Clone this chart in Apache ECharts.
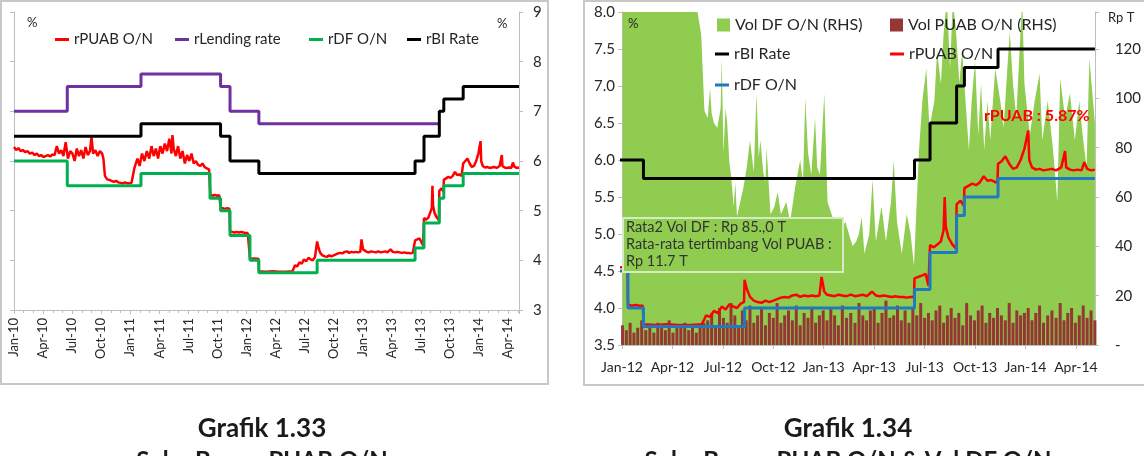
<!DOCTYPE html>
<html>
<head>
<meta charset="utf-8">
<script src="https://cdn.jsdelivr.net/npm/echarts@6/dist/echarts.min.js"></script>
<style>
  html, body { margin: 0; padding: 0; background: #fff; }
  #chart { width: 1144px; height: 456px; }
</style>
</head>
<body>
<div id="chart"></div>
<script>
// tick labels
const leftTicks = ['Jan-10', 'Apr-10', 'Jul-10', 'Oct-10', 'Jan-11', 'Apr-11', 'Jul-11', 'Oct-11', 'Jan-12',
  'Apr-12', 'Jul-12', 'Oct-12', 'Jan-13', 'Apr-13', 'Jul-13', 'Oct-13', 'Jan-14', 'Apr-14'];
const rightTicks = ['Jan-12', 'Apr-12', 'Jul-12', 'Oct-12', 'Jan-13', 'Apr-13', 'Jul-13', 'Oct-13', 'Jan-14', 'Apr-14'];

// policy rates (value holds until the next date)
const biRate = [['2010-01-01', 6.5], ['2011-02-04', 6.75], ['2011-10-11', 6.5], ['2011-11-10', 6.0],
  ['2012-02-09', 5.75], ['2013-06-13', 6.0], ['2013-07-11', 6.5], ['2013-08-29', 7.0], ['2013-09-12', 7.25],
  ['2013-11-12', 7.5], ['2014-05-05', 7.5]];
const lendingRate = [['2010-01-01', 7.0], ['2010-06-16', 7.5], ['2011-02-04', 7.75], ['2011-10-11', 7.5],
  ['2011-11-10', 7.0], ['2012-02-09', 6.75], ['2013-08-29', 6.75]];
const dfRate = [['2010-01-01', 6.0], ['2010-06-16', 5.5], ['2011-02-04', 5.75], ['2011-09-08', 5.25],
  ['2011-10-11', 5.0], ['2011-11-10', 4.5], ['2012-01-12', 4.0], ['2012-02-09', 3.75], ['2012-08-10', 4.0],
  ['2013-06-13', 4.25], ['2013-07-11', 4.75], ['2013-08-29', 5.25], ['2013-09-12', 5.5], ['2013-11-12', 5.75],
  ['2014-05-05', 5.75]];

// overnight interbank rate
const rPuab = [
  ['2010-01-01', 6.28], ['2010-01-08', 6.22], ['2010-01-15', 6.26], ['2010-01-22', 6.2], ['2010-01-29', 6.22],
  ['2010-02-05', 6.18], ['2010-02-12', 6.2], ['2010-02-19', 6.15], ['2010-02-26', 6.17],
  ['2010-03-05', 6.12], ['2010-03-12', 6.15], ['2010-03-19', 6.1], ['2010-03-26', 6.12],
  ['2010-04-02', 6.08], ['2010-04-09', 6.1], ['2010-04-16', 6.12], ['2010-04-23', 6.09], ['2010-04-30', 6.13],
  ['2010-05-07', 6.12], ['2010-05-14', 6.3], ['2010-05-21', 6.15], ['2010-05-28', 6.22],
  ['2010-06-04', 6.1], ['2010-06-11', 6.38], ['2010-06-18', 6.05], ['2010-06-25', 6.2],
  ['2010-07-02', 6.15], ['2010-07-09', 6.0], ['2010-07-16', 6.25], ['2010-07-23', 6.1], ['2010-07-30', 6.22],
  ['2010-08-06', 6.05], ['2010-08-13', 6.28], ['2010-08-20', 6.12], ['2010-08-27', 6.2],
  ['2010-09-01', 6.48], ['2010-09-06', 6.15], ['2010-09-13', 6.22], ['2010-09-20', 6.1], ['2010-09-27', 6.2],
  ['2010-10-04', 6.15], ['2010-10-08', 6.05], ['2010-10-13', 5.7], ['2010-10-20', 5.63], ['2010-10-27', 5.62],
  ['2010-11-03', 5.6], ['2010-11-10', 5.58], ['2010-11-17', 5.6], ['2010-11-24', 5.57],
  ['2010-12-01', 5.56], ['2010-12-08', 5.55], ['2010-12-15', 5.57], ['2010-12-22', 5.55], ['2010-12-29', 5.55],
  ['2011-01-05', 5.56], ['2011-01-10', 5.6], ['2011-01-14', 5.85], ['2011-01-19', 5.95], ['2011-01-24', 6.05], ['2011-01-31', 5.9],
  ['2011-02-07', 6.15], ['2011-02-14', 6.0], ['2011-02-21', 6.2], ['2011-02-28', 6.05],
  ['2011-03-07', 6.3], ['2011-03-14', 6.1], ['2011-03-21', 6.25], ['2011-03-28', 6.05],
  ['2011-04-04', 6.3], ['2011-04-11', 6.15], ['2011-04-18', 6.35], ['2011-04-25', 6.2],
  ['2011-05-02', 6.45], ['2011-05-09', 6.15], ['2011-05-12', 6.52], ['2011-05-16', 6.25], ['2011-05-23', 6.1], ['2011-05-30', 6.3],
  ['2011-06-06', 6.05], ['2011-06-13', 6.2], ['2011-06-20', 5.95], ['2011-06-27', 6.12],
  ['2011-07-04', 6.0], ['2011-07-11', 6.15], ['2011-07-18', 5.95], ['2011-07-25', 6.0],
  ['2011-08-01', 5.92], ['2011-08-08', 5.9], ['2011-08-15', 5.95], ['2011-08-22', 5.88], ['2011-08-29', 5.85],
  ['2011-09-05', 5.83], ['2011-09-07', 5.8], ['2011-09-09', 5.33], ['2011-09-16', 5.3], ['2011-09-23', 5.32],
  ['2011-09-30', 5.3], ['2011-10-07', 5.31], ['2011-10-11', 5.06], ['2011-10-18', 5.05], ['2011-10-25', 5.03],
  ['2011-11-01', 5.05], ['2011-11-08', 5.04], ['2011-11-10', 4.58], ['2011-11-17', 4.57], ['2011-11-24', 4.56],
  ['2011-12-01', 4.57], ['2011-12-08', 4.56], ['2011-12-15', 4.57], ['2011-12-22', 4.56], ['2011-12-29', 4.55],
  ['2012-01-05', 4.55], ['2012-01-11', 4.54], ['2012-01-12', 4.05], ['2012-01-19', 4.03], ['2012-01-26', 4.04],
  ['2012-02-02', 4.03], ['2012-02-08', 4.03], ['2012-02-09', 3.78], ['2012-03-01', 3.77], ['2012-03-22', 3.78],
  ['2012-04-12', 3.77], ['2012-05-03', 3.77], ['2012-05-24', 3.78], ['2012-05-29', 3.85], ['2012-06-01', 3.9],
  ['2012-06-08', 3.88], ['2012-06-15', 3.96], ['2012-06-22', 3.93], ['2012-06-29', 4.02],
  ['2012-07-06', 3.98], ['2012-07-13', 4.05], ['2012-07-20', 4.02], ['2012-07-27', 4.0], ['2012-08-03', 4.06],
  ['2012-08-09', 4.08], ['2012-08-10', 4.38], ['2012-08-14', 4.26], ['2012-08-20', 4.15], ['2012-08-27', 4.1],
  ['2012-09-03', 4.08], ['2012-09-10', 4.07], ['2012-09-17', 4.1], ['2012-09-24', 4.08],
  ['2012-10-01', 4.1], ['2012-10-08', 4.12], ['2012-10-15', 4.14], ['2012-10-22', 4.15], ['2012-10-29', 4.14],
  ['2012-11-05', 4.17], ['2012-11-12', 4.18], ['2012-11-19', 4.15], ['2012-11-26', 4.17],
  ['2012-12-03', 4.16], ['2012-12-10', 4.17], ['2012-12-17', 4.16], ['2012-12-24', 4.17], ['2012-12-28', 4.42],
  ['2013-01-02', 4.22], ['2013-01-07', 4.18], ['2013-01-14', 4.17], ['2013-01-21', 4.16], ['2013-01-28', 4.18],
  ['2013-02-04', 4.17], ['2013-02-11', 4.16], ['2013-02-18', 4.18], ['2013-02-25', 4.16],
  ['2013-03-04', 4.17], ['2013-03-11', 4.18], ['2013-03-18', 4.16], ['2013-03-28', 4.22],
  ['2013-04-04', 4.17], ['2013-04-11', 4.16], ['2013-04-18', 4.17], ['2013-04-25', 4.16],
  ['2013-05-02', 4.15], ['2013-05-09', 4.16], ['2013-05-16', 4.15], ['2013-05-23', 4.15], ['2013-05-30', 4.14],
  ['2013-06-06', 4.15], ['2013-06-12', 4.15], ['2013-06-13', 4.4], ['2013-06-20', 4.42], ['2013-06-27', 4.44],
  ['2013-07-03', 4.46], ['2013-07-08', 4.3], ['2013-07-11', 4.85], ['2013-07-18', 4.82], ['2013-07-25', 4.86],
  ['2013-07-31', 4.9], ['2013-08-05', 5.05], ['2013-08-07', 5.5], ['2013-08-09', 5.1], ['2013-08-14', 4.95],
  ['2013-08-21', 4.86], ['2013-08-28', 4.8], ['2013-08-29', 5.4], ['2013-09-05', 5.45], ['2013-09-11', 5.38],
  ['2013-09-12', 5.62], ['2013-09-19', 5.65], ['2013-09-26', 5.68], ['2013-10-03', 5.66], ['2013-10-10', 5.7],
  ['2013-10-17', 5.78], ['2013-10-24', 5.72], ['2013-10-31', 5.73], ['2013-11-07', 5.7], ['2013-11-11', 5.7],
  ['2013-11-12', 5.95], ['2013-11-18', 5.98], ['2013-11-25', 6.05], ['2013-12-02', 5.95], ['2013-12-09', 5.88],
  ['2013-12-16', 5.9], ['2013-12-23', 6.0], ['2013-12-30', 6.15],
  ['2014-01-06', 6.4], ['2014-01-08', 6.0], ['2014-01-13', 5.9], ['2014-01-20', 5.87], ['2014-01-27', 5.88],
  ['2014-02-03', 5.86], ['2014-02-10', 5.87], ['2014-02-17', 5.88], ['2014-02-24', 5.86],
  ['2014-03-05', 5.9], ['2014-03-12', 6.12], ['2014-03-14', 5.9], ['2014-03-21', 5.87], ['2014-03-28', 5.86],
  ['2014-04-04', 5.87], ['2014-04-11', 5.86], ['2014-04-16', 5.97], ['2014-04-21', 5.88], ['2014-04-28', 5.86],
  ['2014-05-05', 5.87]
];

// deposit facility volume, Rp T
const volDf = [
  ['2012-01-02', 150], ['2012-02-01', 150], ['2012-03-01', 150], ['2012-04-01', 150], ['2012-05-10', 150],
  ['2012-05-14', 138], ['2012-05-23', 126], ['2012-05-29', 95], ['2012-06-04', 92], ['2012-06-08', 104],
  ['2012-06-11', 94], ['2012-06-15', 90], ['2012-06-21', 88], ['2012-06-27', 96], ['2012-06-29', 116],
  ['2012-07-02', 78], ['2012-07-06', 96], ['2012-07-09', 90], ['2012-07-13', 74], ['2012-07-16', 69],
  ['2012-07-21', 56], ['2012-07-24', 66], ['2012-07-27', 52], ['2012-08-02', 58], ['2012-08-08', 64],
  ['2012-08-14', 72], ['2012-08-20', 83], ['2012-08-27', 70], ['2012-09-01', 102], ['2012-09-05', 76],
  ['2012-09-08', 83], ['2012-09-13', 70], ['2012-09-17', 66], ['2012-09-19', 80], ['2012-09-26', 53],
  ['2012-10-03', 56], ['2012-10-09', 62], ['2012-10-15', 53], ['2012-10-25', 58], ['2012-11-01', 50],
  ['2012-11-10', 64], ['2012-11-19', 75], ['2012-11-24', 66], ['2012-11-28', 100], ['2012-12-03', 78],
  ['2012-12-09', 69], ['2012-12-16', 92], ['2012-12-20', 72], ['2012-12-25', 69], ['2013-01-02', 102],
  ['2013-01-08', 58], ['2013-01-17', 52], ['2013-01-29', 45], ['2013-02-09', 50], ['2013-02-21', 40],
  ['2013-02-27', 42], ['2013-03-04', 45], ['2013-03-09', 52], ['2013-03-14', 37], ['2013-03-23', 45],
  ['2013-03-29', 67], ['2013-04-04', 42], ['2013-04-14', 56], ['2013-04-22', 42], ['2013-05-01', 58],
  ['2013-05-06', 75], ['2013-05-12', 50], ['2013-05-21', 37], ['2013-05-30', 53], ['2013-06-06', 45],
  ['2013-06-12', 32], ['2013-06-21', 79], ['2013-06-27', 99], ['2013-07-04', 112], ['2013-07-10', 88],
  ['2013-07-19', 99], ['2013-07-24', 119], ['2013-07-31', 106], ['2013-08-05', 126], ['2013-08-11', 140],
  ['2013-08-17', 112], ['2013-08-22', 140], ['2013-08-28', 127], ['2013-09-03', 106], ['2013-09-08', 119],
  ['2013-09-14', 99], ['2013-09-20', 79], ['2013-09-25', 99], ['2013-10-01', 115], ['2013-10-07', 85],
  ['2013-10-12', 106], ['2013-10-18', 79], ['2013-10-24', 99], ['2013-10-29', 83], ['2013-11-07', 112],
  ['2013-11-16', 99], ['2013-11-22', 88], ['2013-11-28', 110], ['2013-12-03', 127], ['2013-12-09', 106],
  ['2013-12-15', 92], ['2013-12-21', 119], ['2013-12-26', 140], ['2013-12-30', 106], ['2014-01-09', 85],
  ['2014-01-18', 99], ['2014-01-27', 110], ['2014-02-01', 83], ['2014-02-10', 99], ['2014-02-19', 79],
  ['2014-02-26', 58], ['2014-03-03', 108], ['2014-03-12', 92], ['2014-03-21', 102], ['2014-03-30', 83],
  ['2014-04-07', 99], ['2014-04-13', 85], ['2014-04-20', 72], ['2014-04-25', 116], ['2014-05-05', 90]
];

// interbank volume, Rp T, one value per week from volPuabStart
const volPuabStart = '2012-01-02';
const volPuab = [
  8, 6, 9, 5, 7, 10, 6, 8, 5, 9, 7, 6, 10, 5, 8, 7, 9, 6, 8, 5, 7, 9,
  10, 13, 8, 15, 11, 9, 17, 12, 8, 14, 10, 16, 9, 12, 15, 8, 13, 11, 17, 9, 12, 14, 10, 16, 8, 13, 11, 15, 9, 12, 14,
  10, 15, 12, 8, 16, 11, 13, 9, 17, 12, 10, 14, 15, 9, 13, 18, 11, 12, 16, 10, 14, 9, 15, 12, 17, 11, 13, 10, 14, 16,
  9, 12, 15, 11, 13, 8, 17, 12, 10, 14, 16, 9, 13, 11, 15, 12, 10, 17, 9, 14, 12, 13,
  15, 10, 13, 16, 9, 12, 14, 11, 17, 10, 13, 15, 9, 12, 16, 11, 14, 10
];

const endDate = '2014-05-05';

// dates -> months since January of baseYear
function monthPos(d, baseYear) {
  const p = d.split('-').map(Number);
  const dim = new Date(p[0], p[1], 0).getDate();
  return (p[0] - baseYear) * 12 + (p[1] - 1) + (p[2] - 1) / dim;
}
function toXY(list, baseYear) {
  return list.map(function (r) { return [monthPos(r[0], baseYear), r[1]]; });
}
function addDays(s, n) {
  const t = new Date(s + 'T00:00:00Z');
  t.setUTCDate(t.getUTCDate() + n);
  return t.toISOString().slice(0, 10);
}
const volPuabXY = volPuab.map(function (v, i) { return [monthPos(addDays(volPuabStart, 7 * i), 2012), v]; });

const FONT = 'Lato, "Open Sans", sans-serif';
const TXT = '#262626';
const AX = '#bfbfbf';

function tickFmt(labels) {
  return function (v) {
    const i = v / 3;
    if (Math.abs(i - Math.round(i)) > 1e-6) return '';
    return labels[Math.round(i)] || '';
  };
}

function lineLegend(name, left, top, size) {
  return {
    data: [name], left: left, top: top, padding: 0, icon: 'rect', itemWidth: 14, itemHeight: 3,
    selectedMode: false, textStyle: { fontSize: size, color: TXT, fontFamily: FONT }
  };
}
function boxLegend(name, left, top) {
  return {
    data: [name], left: left, top: top, padding: 0, icon: 'rect', itemWidth: 13, itemHeight: 13,
    selectedMode: false, textStyle: { fontSize: 16, color: TXT, fontFamily: FONT }
  };
}

const chart = echarts.init(document.getElementById('chart'));

chart.setOption({
  animation: false,
  textStyle: { fontFamily: FONT },
  grid: [
    { left: 14, top: 12, width: 505, height: 298 },
    { left: 622, top: 12, width: 474, height: 333 }
  ],
  xAxis: [
    {
      type: 'value', gridIndex: 0, min: 0, max: monthPos(endDate, 2010), interval: 3,
      axisLine: { lineStyle: { color: AX } },
      axisTick: { length: 4, lineStyle: { color: AX } },
      minorTick: { show: true, splitNumber: 3, length: 3, lineStyle: { color: AX } },
      splitLine: { show: false },
      axisLabel: { rotate: 90, fontSize: 13, color: TXT, margin: 8, formatter: tickFmt(leftTicks), showMaxLabel: false }
    },
    {
      type: 'value', gridIndex: 1, min: 0, max: monthPos(endDate, 2012), interval: 3,
      axisLine: { lineStyle: { color: AX } },
      axisTick: { length: 4, lineStyle: { color: AX } },
      splitLine: { show: false },
      axisLabel: { fontSize: 14, color: TXT, margin: 15, formatter: tickFmt(rightTicks), showMaxLabel: false }
    }
  ],
  yAxis: [
    {
      type: 'value', gridIndex: 0, position: 'left', min: 3, max: 9, interval: 1,
      axisLine: { show: true, lineStyle: { color: AX } },
      axisTick: { show: true, length: 4, lineStyle: { color: AX } },
      axisLabel: { show: false }, splitLine: { show: false }
    },
    {
      type: 'value', gridIndex: 0, position: 'right', min: 3, max: 9, interval: 1,
      axisLine: { show: true, lineStyle: { color: AX } },
      axisTick: { show: true, length: 4, lineStyle: { color: AX } },
      axisLabel: { fontSize: 15, color: TXT, margin: 14 }, splitLine: { show: false }
    },
    {
      type: 'value', gridIndex: 1, position: 'left', min: 3.5, max: 8, interval: 0.5,
      axisLine: { show: true, lineStyle: { color: AX } },
      axisTick: { show: true, length: 4, lineStyle: { color: AX } },
      axisLabel: { fontSize: 15, color: TXT, margin: 7, formatter: function (v) { return v.toFixed(1); } },
      splitLine: { show: false }
    },
    {
      type: 'value', gridIndex: 1, position: 'right', min: 0, max: 135, interval: 20,
      axisLine: { show: true, lineStyle: { color: AX } },
      axisTick: { show: true, length: 4, lineStyle: { color: AX } },
      axisLabel: {
        fontSize: 15, color: TXT, margin: 20,
        formatter: function (v) { return v === 0 ? '-' : (v > 125 ? '' : v); }
      },
      splitLine: { show: false }
    }
  ],
  legend: [
    lineLegend('rPUAB O/N', 55, 32, 15),
    lineLegend('rLending rate', 175, 32, 15),
    lineLegend('rDF O/N', 309, 32, 15),
    lineLegend('rBI Rate', 407, 32, 15),
    boxLegend('Vol DF O/N (RHS)', 717, 17),
    boxLegend('Vol PUAB O/N (RHS)', 890, 17),
    lineLegend('rBI Rate ', 715, 46, 16),
    lineLegend('rPUAB O/N ', 890, 46, 16),
    lineLegend('rDF O/N ', 715, 77, 16)
  ],
  series: [
    // left chart
    {
      name: 'rPUAB O/N', type: 'line', xAxisIndex: 0, yAxisIndex: 1, data: toXY(rPuab, 2010),
      color: '#ff0000', showSymbol: false, lineStyle: { width: 2.5 }, z: 3
    },
    {
      name: 'rLending rate', type: 'line', xAxisIndex: 0, yAxisIndex: 1, data: toXY(lendingRate, 2010),
      step: 'end', color: '#7030a0', showSymbol: false, lineStyle: { width: 3 }, z: 3
    },
    {
      name: 'rDF O/N', type: 'line', xAxisIndex: 0, yAxisIndex: 1, data: toXY(dfRate, 2010),
      step: 'end', color: '#00b050', showSymbol: false, lineStyle: { width: 3 }, z: 3
    },
    {
      name: 'rBI Rate', type: 'line', xAxisIndex: 0, yAxisIndex: 1, data: toXY(biRate, 2010),
      step: 'end', color: '#000000', showSymbol: false, lineStyle: { width: 3 }, z: 3
    },
    // right chart
    {
      name: 'Vol DF O/N (RHS)', type: 'line', xAxisIndex: 1, yAxisIndex: 3, data: toXY(volDf, 2012),
      color: '#8fcc4f', showSymbol: false, lineStyle: { width: 0 },
      areaStyle: { color: '#8fcc4f', opacity: 1 }, z: 1
    },
    {
      name: 'Vol PUAB O/N (RHS)', type: 'bar', xAxisIndex: 1, yAxisIndex: 3, data: volPuabXY,
      color: '#953735', barWidth: 3, z: 2
    },
    {
      name: 'rBI Rate ', type: 'line', xAxisIndex: 1, yAxisIndex: 2, data: toXY(biRate, 2012),
      step: 'end', color: '#000000', showSymbol: false, lineStyle: { width: 3 }, z: 3
    },
    {
      name: 'rPUAB O/N ', type: 'line', xAxisIndex: 1, yAxisIndex: 2, data: toXY(rPuab, 2012),
      color: '#ff0000', showSymbol: false, lineStyle: { width: 2.5 }, z: 3
    },
    {
      name: 'rDF O/N ', type: 'line', xAxisIndex: 1, yAxisIndex: 2, data: toXY(dfRate, 2012),
      step: 'end', color: '#1f7ac0', showSymbol: false, lineStyle: { width: 3 }, z: 3
    }
  ],
  graphic: [
    { type: 'rect', shape: { x: 1, y: 1, width: 547, height: 383 }, style: { fill: 'none', stroke: '#c8c8c8', lineWidth: 2 } },
    { type: 'rect', shape: { x: 584, y: 1, width: 580, height: 384 }, style: { fill: 'none', stroke: '#c8c8c8', lineWidth: 2 } },
    { type: 'text', x: 27, y: 16, style: { text: '%', font: '13px ' + FONT, fill: TXT } },
    { type: 'text', x: 497, y: 17, style: { text: '%', font: '13px ' + FONT, fill: TXT } },
    { type: 'text', x: 628, y: 17, z: 20, style: { text: '%', font: '13px ' + FONT, fill: TXT } },
    { type: 'text', x: 1108, y: 11, style: { text: 'Rp T', font: '13px ' + FONT, fill: TXT } },
    {
      type: 'rect', z: 20, shape: { x: 623, y: 218, width: 220, height: 54 },
      style: { fill: '#8fcc4f', stroke: '#d6ebc4', lineWidth: 2 }
    },
    { type: 'text', x: 626, y: 220, z: 21, style: { text: 'Rata2 Vol DF : Rp 85.,0 T', font: '14.5px ' + FONT, fill: '#333' } },
    { type: 'text', x: 626, y: 237, z: 21, style: { text: 'Rata-rata tertimbang Vol PUAB :', font: '14.5px ' + FONT, fill: '#333' } },
    { type: 'text', x: 626, y: 254, z: 21, style: { text: 'Rp 11.7 T', font: '14.5px ' + FONT, fill: '#333' } },
    { type: 'text', x: 984, y: 108, z: 21, style: { text: 'rPUAB : 5.87%', font: 'bold 16px ' + FONT, fill: '#ff0000' } },
    {
      type: 'text', x: 262, y: 416,
      style: { text: 'Grafik 1.33', font: 'bold 26px ' + FONT, fill: '#1a1a1a', textAlign: 'center', align: 'center' }
    },
    {
      type: 'text', x: 848, y: 416,
      style: { text: 'Grafik 1.34', font: 'bold 26px ' + FONT, fill: '#1a1a1a', textAlign: 'center', align: 'center' }
    },
    {
      type: 'text', x: 262, y: 449,
      style: { text: 'Suku Bunga PUAB O/N', font: 'bold 24px ' + FONT, fill: '#1a1a1a', textAlign: 'center', align: 'center' }
    },
    {
      type: 'text', x: 848, y: 449,
      style: { text: 'Suku Bunga PUAB O/N & Vol DF O/N', font: 'bold 24px ' + FONT, fill: '#1a1a1a', textAlign: 'center', align: 'center' }
    }
  ]
});
</script>
</body>
</html>
